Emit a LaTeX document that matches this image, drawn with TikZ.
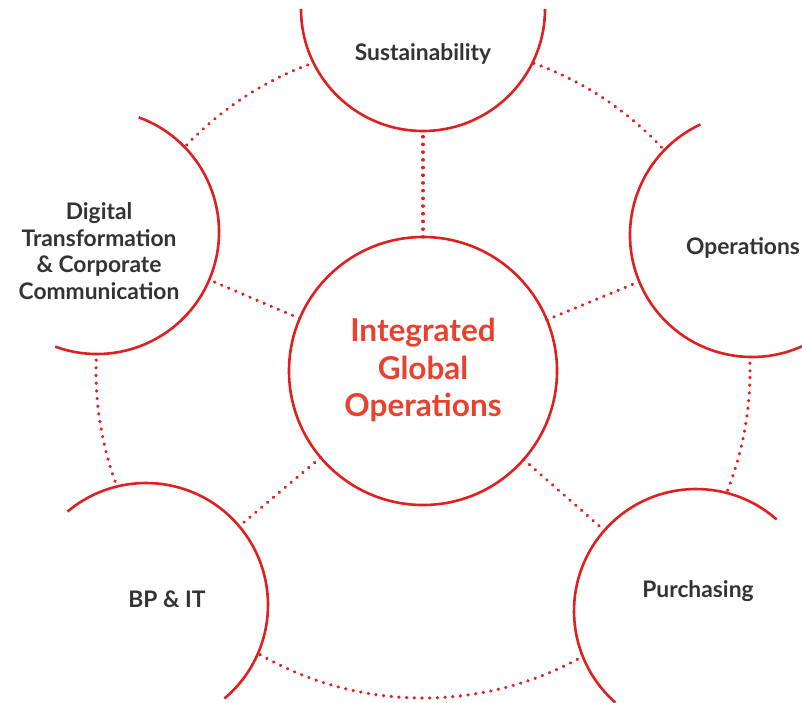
\documentclass[tikz,border=0pt]{standalone}
\usepackage{fontspec}
\setmainfont{Lato}
\definecolor{ringred}{RGB}{224,32,32}
\definecolor{hubred}{RGB}{232,66,46}
\definecolor{labelgray}{RGB}{51,51,51}
\begin{document}
\begin{tikzpicture}[x=1pt,y=1pt,
  ring/.style={draw=ringred, line width=2.6pt},
  dotline/.style={draw=ringred, line width=3.3pt, line cap=round, dash pattern=on 0.3pt off 7.4pt},
  hub/.style={circle, minimum size=268pt, inner sep=0pt, outer sep=0pt},
  sat/.style={circle, minimum size=244pt, inner sep=0pt, outer sep=0pt},
  lab/.style={font=\bfseries\fontsize{22.8}{26.5}\selectfont, text=labelgray, align=center, inner sep=0pt},
  hublab/.style={font=\bfseries\fontsize{31.5}{37.5}\selectfont, text=hubred, align=center, inner sep=0pt}]
\useasboundingbox (0,0) rectangle (802,-703);
\clip (0,0) rectangle (802,-703);
% node positions
\node[hub] (c) at (423,-371) {};
\node[sat] (s) at (423,-9) {};
\node[sat] (o) at (752,-235) {};
\node[sat] (p) at (696,-611) {};
\node[sat] (b) at (146,-605) {};
\node[sat] (d) at (97,-232) {};
% outer dotted ring
\draw[dotline] (c.center) circle[radius=327];
\foreach \n in {s,o,p,b,d} {\fill[white] (\n.center) circle[radius=122];}
\fill[white] (c.center) circle[radius=134];
% spokes
\foreach \n in {s,o,p,b,d} {\draw[dotline] (c) -- (\n);}
% circles
\draw[ring] (c.center) circle[radius=134];
\draw[ring] (s.center) ++(180:122) arc[start angle=180, end angle=360, radius=122];
\draw[ring] (o.center) ++(115:122) arc[start angle=115, end angle=295, radius=122];
\draw[ring] (p.center) ++(48.6:122) arc[start angle=48.6, end angle=228.6, radius=122];
\draw[ring] (b.center) ++(130:122) arc[start angle=130, end angle=-50, radius=122];
\draw[ring] (d.center) ++(70:122) arc[start angle=70, end angle=-110, radius=122];
% labels
\node[hublab] (tc) at (423,-370) {Integrated\\Global\\Operations};
\node[lab] (ts) at (423,-54) {Sustainability};
\node[lab] (to) at (743,-248) {Operations};
\node[lab] (tp) at (698,-591) {Purchasing};
\node[lab] (tb) at (167,-599) {BP \& IT};
\node[lab] (td) at (99,-251) {Digital\\Transformation\\\& Corporate\\Communication};
\end{tikzpicture}
\end{document}
